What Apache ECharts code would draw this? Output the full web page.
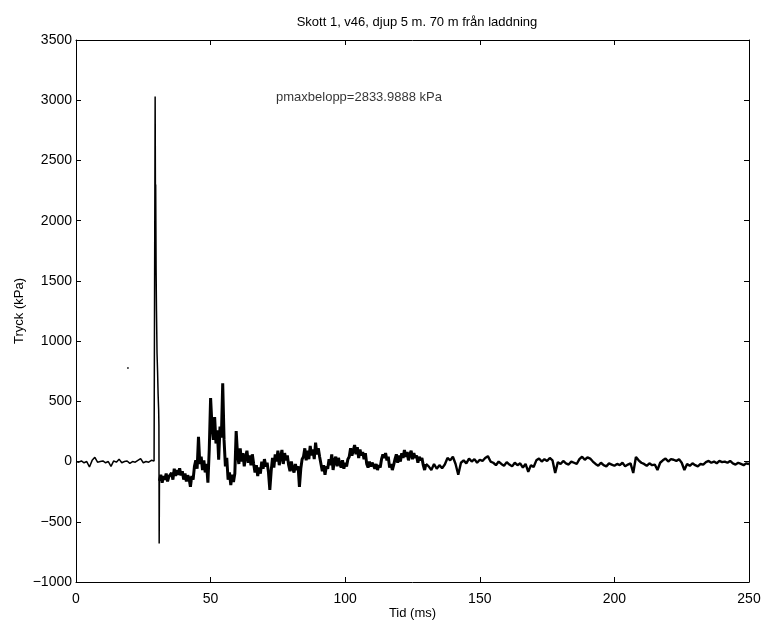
<!DOCTYPE html>
<html>
<head>
<meta charset="utf-8">
<script src="https://cdn.jsdelivr.net/npm/echarts@6/dist/echarts.min.js"></script>
<style>html,body{margin:0;padding:0;background:#fff}#c{width:761px;height:621px}</style>
</head>
<body>
<div id="c"></div>
<script>
// Tick values
const xTicks = [0, 50, 100, 150, 200, 250];
const yTicks = [-1000, -500, 0, 500, 1000, 1500, 2000, 2500, 3000, 3500];

// Pre-shot baseline, sampled every 1 ms from 0 ms
const preStart = 0, preStep = 1;
const preShot = [0, -5, 5, -10, 0, -45, 10, 35, -5, 0, 5, -10, 0, -40, 5, -5, 20, -10, 0, 5, -15, 0, -5, 10, 25, -10, 0, -5, 10, 5];

// Shock spike [time ms, pressure kPa]
const spikeT = [29.3, 29.4, 29.5, 29.6, 29.75, 29.9, 30.1, 30.3, 30.5, 30.7, 30.8, 30.9, 31.0];
const spikeP = [0, 3030, 2250, 2300, 1600, 1250, 900, 750, 560, 430, 300, -680, -160];

// Post-shot, sampled every 0.5 ms from 31.5 ms to 130 ms
const midStart = 31.5, midStep = 0.5;
const midP = [
  -110, -175, -120, -150, -100, -165, -125, -140, -95, -150,
  -60, -120, -70, -110, -55, -115, -80,
  -150, -100, -165, -115, -140, -210, -120, -150,
  -40, 10, -60, 205,
  -20, 40, -70, 10, -90, -20, -175,
  100, 528,
  300, 180, 370, 150, 260,
  15, 290, 200, 650,
  180, -40, 30,
  -150, -90, -195, -110, -170, -100,
  254,
  60, -20, 110, 0, 70, -40, 40, 90, -10, 50,
  -30, 60, -20,
  -90, -30, -120, -50, -100,
  0, -60, 20, -40, -10,
  -90, -236, -80,
  30, -50, 60, 0, 90, -30, 40, 96, -20, 70, 10, 50,
  -30, -80, 0, -60, -90, -20, -70, -40,
  -210,
  -60, 20,
  40, 110, 10, 90, 20, 130, 50, 100, 20, 157, 60, 110, 40,
  -20, -80, -30, -110, -40, -60,
  20, -30, 60, -70, 10, 40, -40, 30, -20,
  -50, 10, -60, -10, -40, 20,
  40, 110, 50, 90, 137, 60, 120, 30, 100, 50, 80, 20, 70,
  -20, -50, 0, -40, -10, -30,
  -60, -20, -70, -30, -50, 20, 60,
  30, 70, 10, 40,
  -50, -20, -70, -30,
  20, 60, -10, 50, 0, 70, 30, 96, 40, 80, 10, 60, 90, 20, 70, 30, 50, -10, 40, 10, 30,
  -30, -70, -20
];

// Late decay, sampled every 1 ms from 131 ms to 250 ms
const lateStart = 131, lateStep = 1;
const lateP = [
  -40, -70, -20, -60, -30, -55, -25,
  30, 10, 40,
  -20, -110, -10,
  10, -15, 25, 0, 20, -10, 15, 5, 30, 45,
  0,
  -10, -30, 0, -20, -35, -5, -25, -40, -10, -30, -15,
  -50, -20, -85, -30, -45,
  10, 25, 0, 20, 5, 30, 10,
  -95,
  -5, -20, 5, -15, -25, 0, -10, -20,
  20, 40, 15, 35, 25,
  0,
  -20, -35, -10, -30, -40, -15, -25, -35, -20, -30, -10, -40, -25, -15,
  -95, 38, 10, -10,
  -20, -35, -15, -30, -25, -70,
  -10,
  10, 25, 0, 20, 15, 5, 20,
  -10, -70,
  -20, -35, -15, -30, -40, -20, -25,
  -5, 5, -10, 0, -15, 5, -5, 0, -10, 5,
  -15, -25, -10, -20, -30, -15, -20
];

// Stray point
const strayPoint = [19.3, 777];
// Annotation anchor
const noteText = 'pmaxbelopp=2833.9888 kPa';
const notePos = [74.3, 3020];

const traceEarly = [];
preShot.forEach((p, i) => traceEarly.push([preStart + i * preStep, p]));
spikeT.forEach((t, i) => traceEarly.push([t, spikeP[i]]));
const traceMid = [[spikeT[spikeT.length - 1], spikeP[spikeP.length - 1]]];
midP.forEach((p, i) => traceMid.push([midStart + i * midStep, p]));
const traceLate = [traceMid[traceMid.length - 1]];
lateP.forEach((p, i) => traceLate.push([lateStart + i * lateStep, p]));

const font = 'Liberation Sans, Arial, Helvetica, sans-serif';
const fmt = v => (v < 0 ? '\u2212' + Math.abs(v) : String(v));
const chart = echarts.init(document.getElementById('c'), null, {renderer: 'canvas'});
const axisBase = {
  type: 'value',
  axisLine: {show: true, onZero: false, lineStyle: {color: '#000', width: 1}},
  axisTick: {show: true, inside: true, length: 5, lineStyle: {color: '#000'}},
  splitLine: {show: false}
};
chart.setOption({
  animation: false,
  backgroundColor: '#fff',
  title: {
    text: 'Skott 1, v46, djup 5 m. 70 m från laddning',
    left: 412, top: 11, textAlign: 'center',
    textStyle: {fontFamily: font, fontSize: 13, fontWeight: 'normal', color: '#000'}
  },
  grid: {left: 76, right: 12, top: 40, bottom: 39, containLabel: false, outerBoundsMode: 'none'},
  xAxis: [
    Object.assign({}, axisBase, {
      min: 0, max: 250, interval: 50, position: 'bottom',
      name: 'Tid (ms)', nameLocation: 'middle', nameGap: 25, nameMoveOverlap: false,
      nameTextStyle: {fontFamily: font, fontSize: 13, color: '#000'},
      axisLabel: {fontFamily: font, fontSize: 14, color: '#000', margin: 10, formatter: fmt}
    }),
    Object.assign({}, axisBase, {
      min: 0, max: 250, interval: 50, position: 'top',
      axisLabel: {show: false}
    })
  ],
  yAxis: [
    Object.assign({}, axisBase, {
      min: -1000, max: 3500, interval: 500, position: 'left',
      name: 'Tryck (kPa)', nameLocation: 'middle', nameGap: 50, nameMoveOverlap: false,
      nameTextStyle: {fontFamily: font, fontSize: 13, color: '#000'},
      axisLabel: {fontFamily: font, fontSize: 14, color: '#000', margin: 4, formatter: fmt}
    }),
    Object.assign({}, axisBase, {
      min: -1000, max: 3500, interval: 500, position: 'right',
      axisLabel: {show: false}
    })
  ],
  series: [
    {
      type: 'line', data: traceEarly, showSymbol: false, symbol: 'none',
      lineStyle: {color: '#000', width: 1.5}, z: 3
    },
    {
      type: 'line', data: traceMid, showSymbol: false, symbol: 'none',
      lineStyle: {color: '#000', width: 3}, z: 3
    },
    {
      type: 'line', data: traceLate, showSymbol: false, symbol: 'none',
      lineStyle: {color: '#000', width: 2.4}, z: 3
    },
    {
      type: 'scatter', data: [strayPoint], symbolSize: 2,
      itemStyle: {color: '#000'}
    },
    {
      type: 'scatter', data: [notePos], symbolSize: 0,
      label: {
        show: true, position: 'right', distance: 0, formatter: noteText,
        fontFamily: font, fontSize: 13, color: '#000'
      }
    }
  ]
});
</script>
</body>
</html>
